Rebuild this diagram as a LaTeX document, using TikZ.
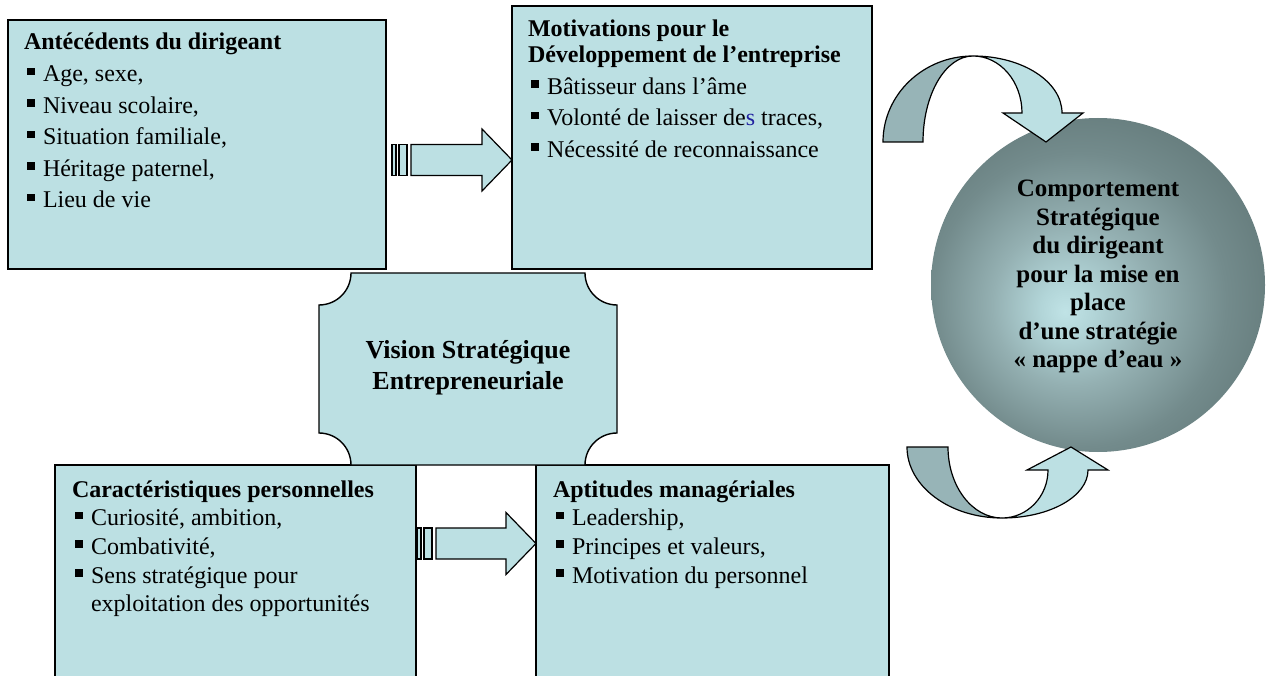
\documentclass[tikz,border=0pt]{standalone}
\usepackage{fontspec}
\setmainfont{Liberation Serif}
\usetikzlibrary{calc}

\definecolor{boxfill}{HTML}{BCE0E3}
\definecolor{bandback}{HTML}{97B4B7}
\definecolor{orbA}{HTML}{C0E3E6}
\definecolor{orbB}{HTML}{B2D5D8}
\definecolor{orbC}{HTML}{94B0B2}
\definecolor{orbD}{HTML}{738B8C}
\definecolor{orbE}{HTML}{607676}
\definecolor{orbF}{HTML}{55696A}
\definecolor{inkblue}{HTML}{2020A0}

\pgfdeclareradialshading{orb}{\pgfpoint{-5bp}{-4bp}}{%
  color(0bp)=(orbA); color(4bp)=(orbB); color(12bp)=(orbC);
  color(22bp)=(orbD); color(32bp)=(orbE); color(50bp)=(orbF)}

% square bullet with its hanging indent
\newcommand{\bul}{\hspace*{3pt}\makebox[16pt][l]{\rule[6.5pt]{7.5pt}{7.5pt}}}
\newcommand{\hang}{\hspace*{19pt}}

\tikzset{
  box/.style={draw=black, line width=1.6pt, fill=boxfill, rectangle, inner sep=0, outer sep=0},
  txt/.style={inner sep=0, outer sep=0, anchor=base west},
  ctxt/.style={inner sep=0, outer sep=0, anchor=base},
  arrowline/.style={draw=black, line width=1.2pt, fill=boxfill, line join=miter},
  bandline/.style={draw=black, line width=1.2pt, line join=miter},
}

% striped block arrow: #1 start of the stripes, #2 tip
\newcommand{\striparrow}[2]{%
  \draw[arrowline] ($(#1)+(0,-15.5)$) rectangle ($(#1)+(4,15.5)$);
  \draw[arrowline] ($(#1)+(7,-15.5)$) rectangle ($(#1)+(15,15.5)$);
  \draw[arrowline] ($(#1)+(19,-15.5)$) -- ($(#2)+(-30,-15.5)$) -- ($(#2)+(-30,-31)$)
    -- (#2) -- ($(#2)+(-30,31)$) -- ($(#2)+(-30,15.5)$) -- ($(#1)+(19,15.5)$) -- cycle;
}

\begin{document}
\begin{tikzpicture}[x=1pt, y=-1pt]
\useasboundingbox (0,0) rectangle (1269,676);
\clip (0,0) rectangle (1269,676);

% four boxes
\node[box, minimum width=378, minimum height=249] (A) at (197,144.5) {};
\node[box, minimum width=360, minimum height=263] (B) at (692,137.5) {};
\node[box, minimum width=361, minimum height=235] (C) at (235.5,582.5) {};
\node[box, minimum width=353, minimum height=235] (D) at (712.5,582.5) {};

\node[txt] (Atxt) at ($(A.north west)+(16,30)$) {\parbox[t]{350pt}{\fontsize{24pt}{31.6pt}\selectfont\raggedright
  \textbf{Antécédents du dirigeant}\\
  \bul Age, sexe,\\
  \bul Niveau scolaire,\\
  \bul Situation familiale,\\
  \bul Héritage paternel,\\
  \bul Lieu de vie}};

\node[txt] (Btxt) at ($(B.north west)+(16,31)$) {\parbox[t]{340pt}{\fontsize{24pt}{31.4pt}\selectfont\raggedright
  \textbf{Motivations pour le}\\[-5.4pt]
  \textbf{Développement de l’entreprise}\\
  \bul Bâtisseur dans l’âme\\
  \bul Volonté de laisser de{\color{inkblue}s} traces,\\
  \bul Nécessité de reconnaissance}};

\node[txt] (Ctxt) at ($(C.north west)+(17,32)$) {\parbox[t]{340pt}{\fontsize{24pt}{28.7pt}\selectfont\raggedright
  \textbf{Caractéristiques personnelles}\\
  \bul Curiosité, ambition,\\
  \bul Combativité,\\
  \bul Sens stratégique pour\\
  \hang exploitation des opportunités}};

\node[txt] (Dtxt) at ($(D.north west)+(17,32)$) {\parbox[t]{330pt}{\fontsize{24pt}{28.7pt}\selectfont\raggedright
  \textbf{Aptitudes managériales}\\
  \bul Leadership,\\
  \bul Principes et valeurs,\\
  \bul Motivation du personnel}};

% central plaque with concave corners
\draw[draw=black, line width=1.4pt, fill=boxfill]
  (351,273) -- (585,273) arc[start angle=180, end angle=90, radius=32]
  -- (617,433) arc[start angle=270, end angle=180, radius=32]
  -- (351,465) arc[start angle=0, end angle=-90, radius=32]
  -- (319,305) arc[start angle=90, end angle=0, radius=32] -- cycle;
\node[ctxt] (V) at (468,358) {\parbox[t]{280pt}{\centering\fontsize{26pt}{32pt}\selectfont\bfseries
  Vision Stratégique\\Entrepreneuriale}};

% striped arrows between the boxes
\coordinate (t0) at ($(A.east)+(6,15.5)$);
\coordinate (t1) at (B.west |- t0);
\striparrow{t0}{t1}
\coordinate (b0) at ($(C.east)+(1,-39)$);
\coordinate (b1) at (D.west |- b0);
\striparrow{b0}{b1}

% shaded orb
\node[circle, minimum size=334, inner sep=0, shade, shading=orb] (M) at (1098,285) {};
\node[ctxt] (Mtxt) at (1098,197) {\parbox[t]{300pt}{\centering\fontsize{25pt}{28.5pt}\selectfont\bfseries
  Comportement\\Stratégique\\du dirigeant\\pour la mise en\\place\\d’une stratégie\\« nappe d’eau »}};

% curved arrow above the orb: back band, then front band with head
\draw[bandline, fill=bandback] (883,142)
  arc[start angle=180, end angle=270, x radius=90, y radius=86]
  arc[start angle=270, end angle=180, x radius=50, y radius=86] -- cycle;
\draw[bandline, fill=boxfill] (973,56)
  arc[start angle=270, end angle=360, x radius=89, y radius=57]
  -- (1083,113) -- (1046,142) -- (1003,113) -- (1022,113)
  arc[start angle=0, end angle=-90, x radius=49, y radius=57] -- cycle;

% curved arrow below the orb
\draw[bandline, fill=bandback] (907,447)
  arc[start angle=180, end angle=90, x radius=95, y radius=71]
  arc[start angle=90, end angle=180, x radius=54, y radius=71] -- cycle;
\draw[bandline, fill=boxfill] (1002,518)
  arc[start angle=90, end angle=0, x radius=86, y radius=48]
  -- (1108,470) -- (1071,447) -- (1027,470) -- (1048,470)
  arc[start angle=0, end angle=90, x radius=46, y radius=48] -- cycle;
\end{tikzpicture}
\end{document}
